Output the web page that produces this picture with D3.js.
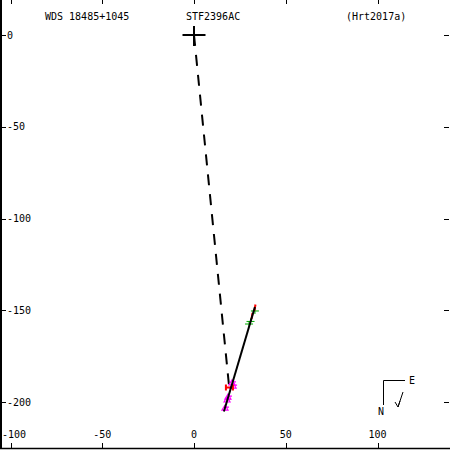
<!DOCTYPE html>
<html>
<head>
<meta charset="utf-8">
<script src="https://cdn.jsdelivr.net/npm/d3@7"></script>
<style>
  body { margin: 0; background: #fff; }
  svg { display: block; }
  text { font-family: "DejaVu Sans Mono", monospace; font-size: 10px; fill: #000; }
</style>
</head>
<body>
<div id="chart"></div>
<script>
// tick values
var xTicks = [-100, -50, 0, 50, 100];
var yTicks = [0, -50, -100, -150, -200];

// header texts
var titleLeft = "WDS 18485+1045";
var titleMid = "STF2396AC";
var titleRight = "(Hrt2017a)";

// primary star and line to last point
var primary = [0, 0];
var dashedEnd = [19.1, -191.3];

// linear fit
var fitLine = [[16.3, -205.2], [33.2, -148.2]];

// observations by kind
var greenObs = [[33.2, -150.4], [30.0, -157.5], [30.8, -156.1]];
var redObs = [[33.5, -148.5], [31.9, -153.1]];
var redH = [[19.3, -192.1]];
var magentaObs = [[20.7, -189.6], [21.3, -191.3], [18.5, -197.3], [18.0, -198.9], [16.9, -203.3]];

var W = 450, H = 450;
var x = d3.scaleLinear().domain([-100, 100]).range([10.5, 377.5]);
var y = d3.scaleLinear().domain([0, -200]).range([35, 402]);

var svg = d3.select("#chart").append("svg")
    .attr("width", W).attr("height", H);

// frame: left and bottom only
svg.append("line").attr("x1", 1).attr("x2", 1).attr("y1", 0).attr("y2", 449)
    .attr("stroke", "#000").attr("stroke-width", 2);
svg.append("line").attr("x1", 0).attr("x2", 450).attr("y1", 448.5).attr("y2", 448.5)
    .attr("stroke", "#000").attr("stroke-width", 1.5);

// ticks on all sides
var tk = svg.append("g").attr("stroke", "#000").attr("stroke-width", 1);
tk.selectAll(".xt").data(xTicks).join("line")
    .attr("x1", d => Math.round(x(d)) + 0.5).attr("x2", d => Math.round(x(d)) + 0.5)
    .attr("y1", 0).attr("y2", 4);
tk.selectAll(".xb").data(xTicks).join("line")
    .attr("x1", d => Math.round(x(d)) + 0.5).attr("x2", d => Math.round(x(d)) + 0.5)
    .attr("y1", 443).attr("y2", 448);
tk.selectAll(".yl").data(yTicks).join("line")
    .attr("y1", d => Math.round(y(d)) + 0.5).attr("y2", d => Math.round(y(d)) + 0.5)
    .attr("x1", 1).attr("x2", 6);
tk.selectAll(".yr").data(yTicks).join("line")
    .attr("y1", d => Math.round(y(d)) + 0.5).attr("y2", d => Math.round(y(d)) + 0.5)
    .attr("x1", 444).attr("x2", 449);

// tick labels (x labels kept inside the left edge)
svg.append("g").selectAll("text").data(xTicks).join("text")
    .attr("y", 438)
    .text(d => d)
    .attr("x", function(d) {
        var w = this.getComputedTextLength();
        return Math.max(x(d) - w / 2, 2);
    });
svg.append("g").selectAll("text").data(yTicks).join("text")
    .attr("x", 7).attr("y", d => y(d)).attr("dy", "0.35em")
    .text(d => d);

// header
svg.append("text").attr("x", 45).attr("y", 20).text(titleLeft);
svg.append("text").attr("x", 186).attr("y", 20).text(titleMid);
svg.append("text").attr("x", 346).attr("y", 20).text(titleRight);

// primary cross
svg.append("path")
    .attr("d", `M${x(primary[0]) - 11.5},${y(primary[1])}H${x(primary[0]) + 11.5}` +
               `M${x(primary[0])},${y(primary[1]) - 9}V${y(primary[1]) + 11}`)
    .attr("stroke", "#000").attr("stroke-width", 2).attr("fill", "none");

// dashed line from primary
svg.append("line")
    .attr("x1", x(primary[0])).attr("y1", y(primary[1]))
    .attr("x2", x(dashedEnd[0])).attr("y2", y(dashedEnd[1]))
    .attr("stroke", "#000").attr("stroke-width", 2)
    .attr("stroke-dasharray", "11,9");

// observations
var obs = svg.append("g").attr("fill", "none");
obs.selectAll(".m").data(magentaObs).join("path")
    .attr("d", d => {
        var cx = x(d[0]), cy = y(d[1]);
        return `M${cx - 3},${cy + 2}L${cx},${cy - 3}L${cx + 3},${cy + 2}Z M${cx + 1},${cy - 1}h3`;
    })
    .attr("stroke", "#f0f").attr("stroke-width", 1.2);
obs.selectAll(".g").data(greenObs).join("path")
    .attr("d", d => {
        var cx = x(d[0]), cy = y(d[1]);
        return `M${cx - 4},${cy}H${cx + 4}M${cx},${cy - 3}V${cy + 3}`;
    })
    .attr("stroke", "#0a0").attr("stroke-width", 1);
obs.selectAll(".r").data(redObs).join("path")
    .attr("d", d => {
        var cx = x(d[0]), cy = y(d[1]);
        return `M${cx},${cy - 3}L${cx - 1},${cy + 3}`;
    })
    .attr("stroke", "#f00").attr("stroke-width", 2);
obs.selectAll(".rh").data(redH).join("path")
    .attr("d", d => {
        var cx = x(d[0]), cy = y(d[1]);
        return `M${cx - 3.5},${cy - 3}V${cy + 3}M${cx + 3.5},${cy - 3}V${cy + 3}M${cx - 3.5},${cy}H${cx + 3.5}`;
    })
    .attr("stroke", "#f00").attr("stroke-width", 2);

// fit line
svg.append("line")
    .attr("x1", x(fitLine[0][0])).attr("y1", y(fitLine[0][1]))
    .attr("x2", x(fitLine[1][0])).attr("y2", y(fitLine[1][1]))
    .attr("stroke", "#000").attr("stroke-width", 2);

// orientation marker
var cmp = svg.append("g").attr("stroke", "#000").attr("stroke-width", 1).attr("fill", "none");
cmp.append("path").attr("d", "M383.5,405V380.5H405");
cmp.append("path").attr("d", "M403,392L398,407M395,402L398,407L400,401");
svg.append("text").attr("x", 409).attr("y", 384).text("E");
svg.append("text").attr("x", 378).attr("y", 415).text("N");
</script>
</body>
</html>
